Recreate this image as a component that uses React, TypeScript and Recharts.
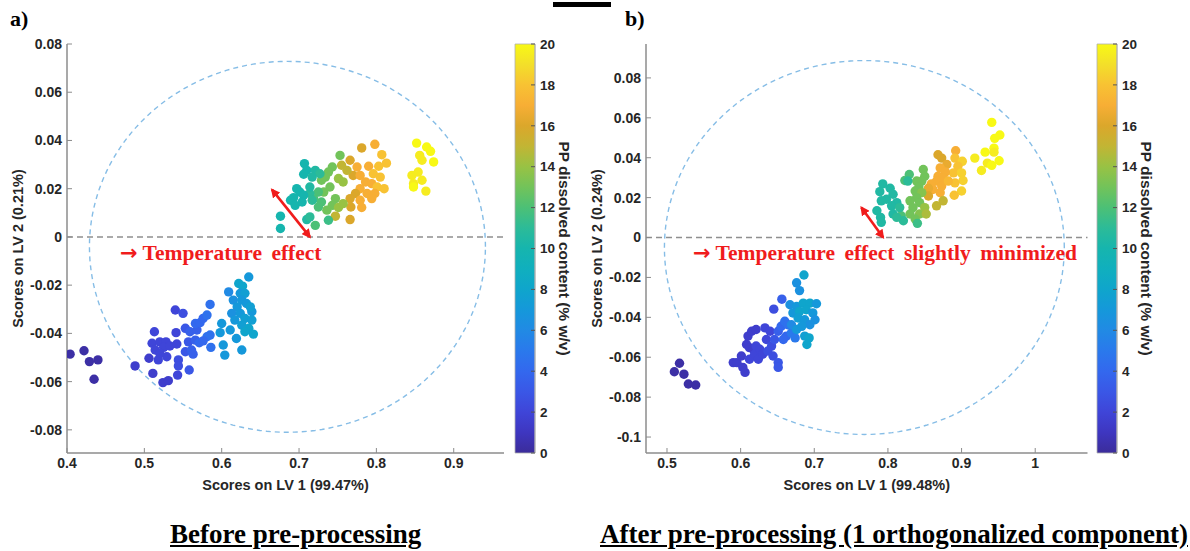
import { Bar, BarChart, ReferenceLine, Scatter, ScatterChart, XAxis, YAxis } from 'recharts';

type Pt = [number, number, number]; // [LV1 score, LV2 score, PP content % w/v]

// ---- panel a (before pre-processing) ----
const aYellow: Pt[] = [
  [0.852, 0.0389, 20], [0.865, 0.0373, 20], [0.87, 0.0355, 20], [0.856, 0.0338, 19.5],
  [0.859, 0.0318, 19.5], [0.874, 0.0311, 20], [0.854, 0.0269, 19.5], [0.846, 0.0255, 19.5],
  [0.859, 0.0235, 19.5], [0.848, 0.0221, 19.5], [0.848, 0.0207, 20], [0.864, 0.019, 19.5],
];
const aOrange: Pt[] = [
  [0.798, 0.0384, 17], [0.781, 0.0369, 16], [0.807, 0.0341, 18], [0.813, 0.0306, 18],
  [0.803, 0.0293, 18], [0.79, 0.0293, 17], [0.766, 0.0318, 16], [0.775, 0.029, 17],
  [0.77, 0.0255, 16], [0.779, 0.0255, 17], [0.796, 0.0262, 18], [0.805, 0.0248, 18],
  [0.786, 0.0228, 17], [0.794, 0.0221, 17], [0.801, 0.0207, 18], [0.81, 0.02, 18],
  [0.779, 0.02, 17], [0.773, 0.018, 16], [0.788, 0.018, 17], [0.798, 0.018, 17],
  [0.794, 0.0159, 17], [0.779, 0.0152, 17], [0.766, 0.0159, 16], [0.781, 0.0122, 17],
  [0.767, 0.0124, 16], [0.766, 0.0072, 16],
];
const aGreen: Pt[] = [
  [0.753, 0.0338, 13], [0.755, 0.0297, 15], [0.762, 0.0276, 15], [0.743, 0.029, 13],
  [0.738, 0.0269, 13], [0.734, 0.0248, 13], [0.729, 0.0235, 13], [0.751, 0.0242, 14],
  [0.757, 0.0228, 14], [0.74, 0.0207, 13], [0.732, 0.0186, 13], [0.725, 0.0186, 12],
  [0.719, 0.0159, 12], [0.729, 0.0145, 12], [0.747, 0.0159, 13], [0.743, 0.0131, 13],
  [0.751, 0.0122, 14], [0.736, 0.0111, 13], [0.757, 0.0138, 14], [0.747, 0.0086, 15],
  [0.738, 0.0069, 11.5], [0.721, 0.0048, 12], [0.725, 0.0124, 12], [0.714, 0.018, 11],
];
const aTeal: Pt[] = [
  [0.707, 0.0304, 10], [0.71, 0.0276, 10], [0.706, 0.026, 10], [0.721, 0.0276, 10.5],
  [0.727, 0.0262, 11], [0.717, 0.0248, 10.5], [0.697, 0.02, 10], [0.701, 0.0186, 10],
  [0.693, 0.0163, 10], [0.689, 0.0152, 10], [0.706, 0.0173, 10], [0.714, 0.0207, 10.5],
  [0.695, 0.0131, 10], [0.704, 0.0145, 10], [0.676, 0.0086, 10], [0.676, 0.0035, 10],
  [0.71, 0.0072, 10.5], [0.714, 0.0083, 11], [0.717, 0.0152, 11],
];
const aIndigo: Pt[] = [
  [0.404, -0.0486, 0.3], [0.422, -0.0472, 0.3], [0.429, -0.0517, 0.3], [0.44, -0.051, 0.3],
  [0.435, -0.059, 0.3], [0.488, -0.0535, 1.5],
];
const aPurple: Pt[] = [
  [0.513, -0.0393, 2], [0.54, -0.0303, 2], [0.55, -0.0317, 2.5], [0.541, -0.0397, 2],
  [0.51, -0.0441, 2], [0.52, -0.0435, 2], [0.528, -0.0435, 2], [0.514, -0.0469, 2],
  [0.525, -0.0458, 2], [0.533, -0.0452, 2], [0.542, -0.0444, 2], [0.506, -0.0503, 1.5],
  [0.518, -0.051, 2], [0.529, -0.0497, 2], [0.52, -0.0483, 2], [0.511, -0.0566, 1.5],
  [0.544, -0.051, 2.5], [0.544, -0.0535, 2.5], [0.524, -0.0604, 1.5], [0.531, -0.0596, 1.5],
  [0.543, -0.0573, 2],
];
const aBlue: Pt[] = [
  [0.553, -0.0379, 3], [0.559, -0.0393, 3.5], [0.568, -0.0386, 3.5], [0.557, -0.0435, 3],
  [0.566, -0.0428, 3.5], [0.553, -0.0476, 3], [0.561, -0.0469, 3.5], [0.563, -0.0486, 3.5],
  [0.558, -0.0552, 3], [0.566, -0.0359, 4], [0.572, -0.0356, 4], [0.576, -0.0338, 4],
  [0.581, -0.0324, 4.5], [0.585, -0.028, 4.5], [0.571, -0.0439, 4], [0.581, -0.0414, 4.5],
  [0.585, -0.0407, 4.5], [0.586, -0.0458, 4.5], [0.576, -0.0431, 4],
];
const aCyan: Pt[] = [
  [0.6, -0.0359, 7], [0.598, -0.0397, 7], [0.602, -0.0448, 7], [0.604, -0.049, 7],
  [0.609, -0.0228, 6], [0.619, -0.0421, 7], [0.626, -0.0469, 7], [0.611, -0.0386, 7],
  [0.635, -0.0166, 7], [0.622, -0.0193, 8], [0.627, -0.0204, 8], [0.624, -0.0234, 7],
  [0.63, -0.0234, 7.5], [0.615, -0.0262, 6.5], [0.626, -0.0262, 7], [0.62, -0.029, 7],
  [0.632, -0.0276, 7], [0.613, -0.0317, 6.5], [0.624, -0.0317, 7], [0.639, -0.031, 7],
  [0.617, -0.0345, 7], [0.63, -0.0338, 7.5], [0.639, -0.0345, 7.5], [0.626, -0.0366, 7.5],
  [0.635, -0.0379, 8], [0.641, -0.0403, 8], [0.63, -0.0393, 8], [0.637, -0.029, 7.5],
];

// ---- panel b (after pre-processing) ----
const bYellow: Pt[] = [
  [0.941, 0.0577, 20], [0.952, 0.0514, 20], [0.945, 0.0497, 20], [0.944, 0.0448, 20],
  [0.932, 0.0428, 20], [0.944, 0.0428, 19.5], [0.918, 0.0398, 19.5], [0.951, 0.0385, 20],
  [0.935, 0.0373, 19.5], [0.941, 0.0362, 20], [0.927, 0.0336, 19.5],
];
const bOrange: Pt[] = [
  [0.892, 0.0435, 17], [0.868, 0.0415, 16], [0.873, 0.0398, 16], [0.88, 0.0366, 16.5],
  [0.891, 0.0398, 18], [0.901, 0.0382, 18.5], [0.895, 0.0357, 18], [0.889, 0.0324, 18],
  [0.9, 0.0324, 18.5], [0.902, 0.0286, 18.5], [0.891, 0.0274, 18], [0.9, 0.0233, 18.5],
  [0.89, 0.0212, 18], [0.871, 0.0349, 17], [0.878, 0.0329, 17], [0.868, 0.0307, 17],
  [0.875, 0.0299, 17], [0.866, 0.0283, 17], [0.859, 0.0269, 17], [0.873, 0.0258, 17],
  [0.861, 0.0241, 17], [0.871, 0.0225, 17], [0.855, 0.0247, 16.5], [0.882, 0.0283, 17.5],
  [0.875, 0.0184, 15], [0.866, 0.0159, 15], [0.855, 0.0208, 16],
];
const bGreen: Pt[] = [
  [0.848, 0.0341, 13], [0.85, 0.0307, 13], [0.846, 0.0283, 13], [0.839, 0.0283, 13],
  [0.842, 0.0253, 13], [0.837, 0.0233, 13], [0.846, 0.0225, 13.5], [0.839, 0.02, 13],
  [0.83, 0.0184, 13], [0.843, 0.0175, 13], [0.834, 0.015, 13], [0.83, 0.0118, 13],
  [0.843, 0.0118, 13.5], [0.837, 0.0093, 13], [0.85, 0.015, 14], [0.852, 0.0118, 14.5],
  [0.818, 0.0109, 12], [0.84, 0.0071, 11.5], [0.829, 0.0316, 12], [0.823, 0.0286, 12],
];
const bTeal: Pt[] = [
  [0.793, 0.0269, 10.5], [0.789, 0.023, 10.5], [0.803, 0.0247, 10.5], [0.807, 0.0217, 10.5],
  [0.798, 0.0192, 10.5], [0.812, 0.0175, 10.5], [0.805, 0.0159, 10.5], [0.791, 0.0184, 10.5],
  [0.785, 0.0134, 10.5], [0.79, 0.0101, 10.5], [0.807, 0.0118, 10.5], [0.816, 0.015, 11],
  [0.821, 0.0084, 11], [0.812, 0.0101, 11], [0.791, 0.0076, 10.5], [0.827, 0.0283, 11],
];
const bIndigo: Pt[] = [
  [0.517, -0.063, 0.3], [0.51, -0.0673, 0.3], [0.523, -0.0685, 0.3], [0.529, -0.0734, 0.3],
  [0.539, -0.0739, 0.3],
];
const bPurple: Pt[] = [
  [0.59, -0.0627, 1.5], [0.595, -0.0627, 1.5], [0.601, -0.0594, 1.5], [0.606, -0.0676, 1.5],
  [0.603, -0.0651, 1.5], [0.612, -0.061, 2], [0.608, -0.0536, 1.5], [0.61, -0.0494, 1.5],
  [0.612, -0.0552, 1.5], [0.617, -0.056, 1.5], [0.621, -0.0544, 2], [0.619, -0.0585, 2],
  [0.615, -0.047, 1.5], [0.621, -0.0461, 1.5], [0.626, -0.056, 2], [0.624, -0.061, 2],
  [0.63, -0.0585, 2], [0.633, -0.0453, 2], [0.64, -0.047, 2], [0.635, -0.0511, 2],
  [0.642, -0.0544, 2.5], [0.637, -0.0569, 2.5], [0.644, -0.0594, 2.5], [0.651, -0.0627, 3],
  [0.651, -0.0651, 3], [0.646, -0.0511, 3], [0.645, -0.0359, 2.5], [0.656, -0.0309, 3.5],
];
const bBlue: Pt[] = [
  [0.651, -0.047, 3.5], [0.655, -0.0445, 4], [0.66, -0.042, 4.5], [0.662, -0.0494, 4],
  [0.669, -0.0478, 5], [0.674, -0.0503, 5], [0.658, -0.0511, 4], [0.664, -0.0437, 4.5],
];
const bCyan: Pt[] = [
  [0.686, -0.0188, 8], [0.676, -0.0227, 6.5], [0.68, -0.0266, 6.5], [0.667, -0.0337, 6.5],
  [0.676, -0.0346, 7], [0.685, -0.0329, 8], [0.694, -0.0329, 8], [0.703, -0.0332, 7],
  [0.671, -0.0378, 7], [0.68, -0.037, 8], [0.689, -0.0362, 8], [0.698, -0.0378, 7],
  [0.678, -0.0403, 7.5], [0.687, -0.0412, 7], [0.701, -0.0412, 6.5], [0.669, -0.0437, 6],
  [0.694, -0.0437, 6.5], [0.687, -0.0494, 7.5], [0.693, -0.0503, 8], [0.69, -0.0536, 8],
  [0.676, -0.0461, 7], [0.683, -0.0445, 7],
];

// axes
const aXTicks = [0.4, 0.5, 0.6, 0.7, 0.8, 0.9];
const aYTicks = [-0.08, -0.06, -0.04, -0.02, 0, 0.02, 0.04, 0.06, 0.08];
const bXTicks = [0.5, 0.6, 0.7, 0.8, 0.9, 1];
const bYTicks = [-0.1, -0.08, -0.06, -0.04, -0.02, 0, 0.02, 0.04, 0.06, 0.08];
const cbTicks = [0, 2, 4, 6, 8, 10, 12, 14, 16, 18, 20];

// confidence ellipses [cx, cy, rx, ry] and temperature arrows [x1, y1, x2, y2]
const aEllipse = [0.685, -0.0041, 0.256, 0.0769];
const bEllipse = [0.768, -0.005, 0.2715, 0.0937];
const aArrow = [0.665, 0.0196, 0.714, 0.0];
const bArrow = [0.764, 0.015, 0.7935, 0.0];

// colormap (colorbar 0..20)
const cmap: [number, string][] = [
  [0, '#3b2c9a'], [1, '#3e36c0'], [2, '#3f45d8'], [3, '#3a57e6'], [4, '#3368ee'],
  [5, '#2a79ec'], [6, '#218ae4'], [7, '#1598da'], [8, '#0fa5cc'], [9, '#10afbe'],
  [10, '#16b5ae'], [11, '#2cbb98'], [12, '#4cc076'], [13, '#72c35a'], [14, '#98c244'],
  [15, '#c2b534'], [16, '#dba72b'], [17, '#f7ae35'], [18, '#f8c233'], [19, '#f3df2a'],
  [20, '#f8f915'],
];

const RED = '#f01c1c';
const AXIS = '#8c8c8c';
const tickStyle = { fontFamily: 'Liberation Sans, Arial, sans-serif', fontWeight: 700, fontSize: 14, fill: '#262626' };
const labelStyle = { fontFamily: 'Liberation Sans, Arial, sans-serif', fontWeight: 700, fontSize: 14.5, fill: '#262626' };

function hex(h: string) {
  return [1, 3, 5].map((i) => parseInt(h.slice(i, i + 2), 16));
}

function contentColor(c: number) {
  for (let i = 1; i < cmap.length; i++) {
    if (c <= cmap[i][0]) {
      const [v0, h0] = cmap[i - 1];
      const [v1, h1] = cmap[i];
      const t = (c - v0) / (v1 - v0);
      const a = hex(h0);
      const b = hex(h1);
      return `rgb(${a.map((k, j) => Math.round(k + (b[j] - k) * t)).join(',')})`;
    }
  }
  return cmap[cmap.length - 1][1];
}

const toPts = (list: Pt[]) => list.map(([x, y, c]) => ({ x, y, c }));

function ellipsePts([cx, cy, rx, ry]: number[]) {
  const pts = [];
  for (let i = 0; i <= 180; i++) {
    const t = (i / 180) * Math.PI * 2;
    pts.push({ x: cx + rx * Math.cos(t), y: cy + ry * Math.sin(t) });
  }
  return pts;
}

const fmt = (v: number) => String(+v.toFixed(2));

const Dot = (p: any) => <circle cx={p.cx} cy={p.cy} r={4.7} fill={contentColor(p.payload.c)} />;
const NoDot = () => <g />;

type PanelProps = {
  id: string;
  left: number;
  width: number;
  margin: { top: number; right: number; bottom: number; left: number };
  xDomain: [number, number];
  yDomain: [number, number];
  xTicks: number[];
  yTicks: number[];
  xLabel: string;
  yLabel: string;
  groups: Pt[][];
  ellipse: number[];
  arrow: number[];
};

function Panel(p: PanelProps) {
  return (
    <div style={{ position: 'absolute', left: p.left, top: 0 }}>
      <ScatterChart width={p.width} height={500} margin={p.margin}>
        <defs>
          <marker id={`arr-${p.id}`} viewBox="0 0 10 10" refX="8" refY="5" markerWidth="3.6" markerHeight="3.6" orient="auto-start-reverse">
            <path d="M0,0 L10,5 L0,10 z" fill={RED} />
          </marker>
        </defs>
        <XAxis
          type="number" dataKey="x" domain={p.xDomain} ticks={p.xTicks} allowDataOverflow height={30}
          tickFormatter={fmt} tick={tickStyle} tickSize={-5} tickMargin={10}
          axisLine={{ stroke: AXIS, strokeWidth: 1.5 }} tickLine={{ stroke: AXIS }}
          label={{ value: p.xLabel, position: 'bottom', offset: -3, style: labelStyle }}
        />
        <XAxis
          xAxisId="top" orientation="top" type="number" domain={p.xDomain} ticks={p.xTicks} allowDataOverflow
          height={0} tick={false} tickSize={-5} axisLine={{ stroke: AXIS, strokeWidth: 1.5 }} tickLine={{ stroke: AXIS }}
        />
        <YAxis
          type="number" dataKey="y" domain={p.yDomain} ticks={p.yTicks} allowDataOverflow width={50}
          tickFormatter={fmt} tick={tickStyle} tickSize={-5} tickMargin={10}
          axisLine={{ stroke: AXIS, strokeWidth: 1.5 }} tickLine={{ stroke: AXIS }}
          label={{ value: p.yLabel, angle: -90, position: 'insideLeft', offset: 1, style: { ...labelStyle, textAnchor: 'middle' } }}
        />
        <YAxis
          yAxisId="right" orientation="right" type="number" domain={p.yDomain} ticks={p.yTicks} allowDataOverflow
          width={0} tick={false} tickSize={-5} axisLine={{ stroke: AXIS, strokeWidth: 1.5 }} tickLine={{ stroke: AXIS }}
        />
        <Scatter
          data={ellipsePts(p.ellipse)} shape={NoDot} isAnimationActive={false}
          line={{ stroke: '#86bde6', strokeWidth: 1.4, strokeDasharray: '5 4' }}
        />
        <ReferenceLine y={0} stroke="#8f8f8f" strokeWidth={1.5} strokeDasharray="6 4" />
        {p.groups.map((g, i) => (
          <Scatter key={i} data={toPts(g)} shape={Dot} isAnimationActive={false} />
        ))}
        <ReferenceLine
          segment={[{ x: p.arrow[0], y: p.arrow[1] }, { x: p.arrow[2], y: p.arrow[3] }]}
          stroke={RED} strokeWidth={2.6}
          markerStart={`url(#arr-${p.id})`} markerEnd={`url(#arr-${p.id})`}
        />
      </ScatterChart>
    </div>
  );
}

function ColorBar({ id, left }: { id: string; left: number }) {
  return (
    <div style={{ position: 'absolute', left, top: 0 }}>
      <BarChart width={80} height={500} data={[{ k: 'cb', v: 20 }]} margin={{ top: 44, right: 0, bottom: 47, left: 10 }} barCategoryGap={0}>
        <defs>
          <linearGradient id={`grad-${id}`} x1="0" y1="1" x2="0" y2="0">
            {cmap.map(([v, h]) => (
              <stop key={v} offset={v / 20} stopColor={h} />
            ))}
          </linearGradient>
        </defs>
        <XAxis dataKey="k" hide />
        <YAxis
          orientation="right" type="number" domain={[0, 20]} ticks={cbTicks} width={50}
          tick={{ ...tickStyle, fontSize: 13.5 }} tickSize={-4} tickMargin={9}
          axisLine={{ stroke: '#b0b0b0' }} tickLine={{ stroke: '#555' }}
          label={{ value: 'PP dissolved content (% w/v)', angle: 90, position: 'insideRight', offset: 21, style: { ...labelStyle, fontSize: 15.5, textAnchor: 'middle' } }}
        />
        <Bar dataKey="v" fill={`url(#grad-${id})`} stroke="#b0b0b0" strokeWidth={0.8} isAnimationActive={false} />
      </BarChart>
    </div>
  );
}

const serif = '"Liberation Serif", "Times New Roman", serif';
const redText = {
  position: 'absolute' as const, top: 243, fontFamily: serif, fontWeight: 700, fontSize: 21.5,
  color: RED, lineHeight: 1, whiteSpace: 'nowrap' as const, wordSpacing: 4,
};
const arrowGlyph = { fontFamily: '"DejaVu Sans", sans-serif', fontWeight: 700, fontSize: 21, marginRight: 5 };
const caption = {
  position: 'absolute' as const, top: 521, fontFamily: serif, fontWeight: 700, fontSize: 27,
  lineHeight: 1, textDecoration: 'underline', whiteSpace: 'nowrap' as const,
};

export default function App() {
  return (
    <div style={{ position: 'absolute', left: 0, top: 0, width: 1190, height: 551, background: '#fff', overflow: 'hidden' }}>
      <div style={{ position: 'absolute', left: 553, top: 2, width: 58, height: 5, background: '#000' }} />
      <div style={{ position: 'absolute', left: 10, top: 6, fontFamily: serif, fontWeight: 700, fontSize: 22 }}>a)</div>
      <div style={{ position: 'absolute', left: 625, top: 6, fontFamily: serif, fontWeight: 700, fontSize: 22 }}>b)</div>

      <Panel
        id="a" left={0} width={520} margin={{ top: 44, right: 16, bottom: 17, left: 17 }}
        xDomain={[0.4, 0.965]} yDomain={[-0.0896, 0.08]} xTicks={aXTicks} yTicks={aYTicks}
        xLabel="Scores on LV 1 (99.47%)" yLabel="Scores on LV 2 (0.21%)"
        groups={[aYellow, aOrange, aGreen, aTeal, aIndigo, aPurple, aBlue, aCyan]}
        ellipse={aEllipse} arrow={aArrow}
      />
      <ColorBar id="a" left={505} />

      <Panel
        id="b" left={560} width={545} margin={{ top: 44, right: 17.5, bottom: 17, left: 36 }}
        xDomain={[0.4715, 1.071]} yDomain={[-0.108, 0.097]} xTicks={bXTicks} yTicks={bYTicks}
        xLabel="Scores on LV 1 (99.48%)" yLabel="Scores on LV 2 (0.24%)"
        groups={[bYellow, bOrange, bGreen, bTeal, bIndigo, bPurple, bBlue, bCyan]}
        ellipse={bEllipse} arrow={bArrow}
      />
      <ColorBar id="b" left={1087} />

      <div style={{ ...redText, left: 120 }}>
        <span style={arrowGlyph}>→</span>Temperature effect
      </div>
      <div style={{ ...redText, left: 693 }}>
        <span style={arrowGlyph}>→</span>Temperature effect slightly minimized
      </div>

      <div style={{ ...caption, left: 170 }}>Before pre-processing</div>
      <div style={{ ...caption, left: 600 }}>After pre-processing (1 orthogonalized component)</div>
    </div>
  );
}
